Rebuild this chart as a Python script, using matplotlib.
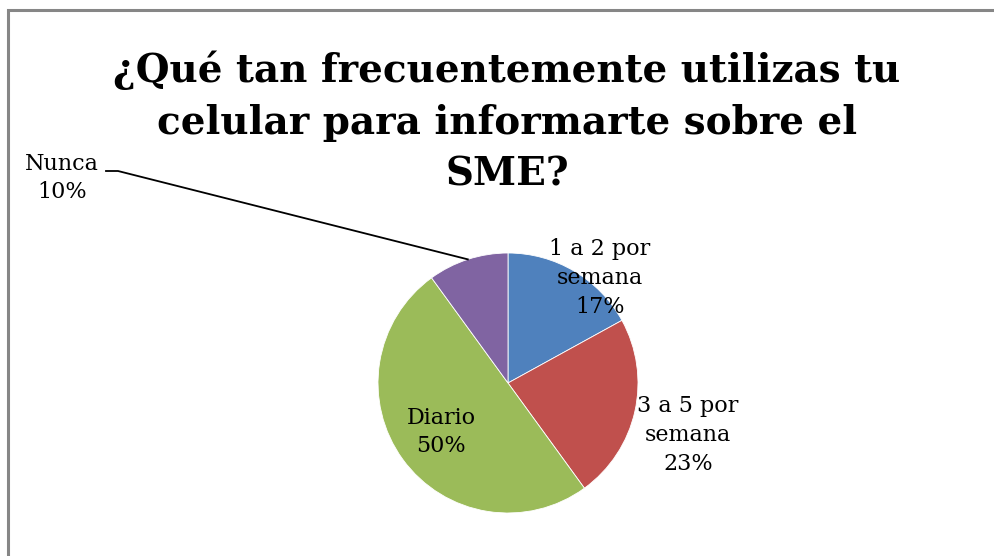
import matplotlib
matplotlib.use("Agg")
import matplotlib.pyplot as plt
from matplotlib.patches import Rectangle
import numpy as np

categories = ["1 a 2 por\nsemana", "3 a 5 por\nsemana", "Diario", "Nunca"]
values = [17, 23, 50, 10]
colors = ["#4F81BD", "#C0504D", "#9BBB59", "#8064A2"]
title = "¿Qué tan frecuentemente utilizas tu\ncelular para informarte sobre el\nSME?"

W, H = 995, 556
fig = plt.figure(figsize=(W / 100, H / 100), dpi=100)

# chart border
fig.patches.append(Rectangle((8 / W, -0.1), 1.1, 1 - 10 / H + 0.1, transform=fig.transFigure,
                             fill=False, edgecolor="#868686", linewidth=2.2))

cx, cy, r = 508, 383, 130
ax = fig.add_axes([(cx - r) / W, (H - cy - r) / H, 2 * r / W, 2 * r / H])
wedges, _ = ax.pie(values, colors=colors, startangle=90, counterclock=False,
                   radius=1, wedgeprops=dict(edgecolor="white", linewidth=0.6))
ax.set_xlim(-1, 1)
ax.set_ylim(-1, 1)
ax.set_aspect("equal")
ax.axis("off")

def px(x, y):
    return (x - cx) / r, (cy - y) / r

label_px = [(600, 278), (688, 435), (441, 432), (62, 178)]
for cat, v, (lx, ly) in zip(categories, values, label_px):
    dx, dy = px(lx, ly)
    ax.text(dx, dy, f"{cat}\n{v}%", ha="center", va="center", fontsize=16,
            family="DejaVu Serif", linespacing=1.4, clip_on=False)

# leader line for Nunca
w = wedges[3]
mid = np.deg2rad((w.theta1 + w.theta2) / 2)
ex, ey = np.cos(mid), np.sin(mid)
p1 = px(106, 171)
p2 = px(118, 171)
ax.plot([p1[0], p2[0], ex], [p1[1], p2[1], ey], color="black", linewidth=1.3, clip_on=False)

fig.text(507 / W, 1 - 122 / H, title, ha="center", va="center", fontsize=28,
         fontweight="bold", family="DejaVu Serif", linespacing=1.45)

fig.savefig("out.png", dpi=100)
